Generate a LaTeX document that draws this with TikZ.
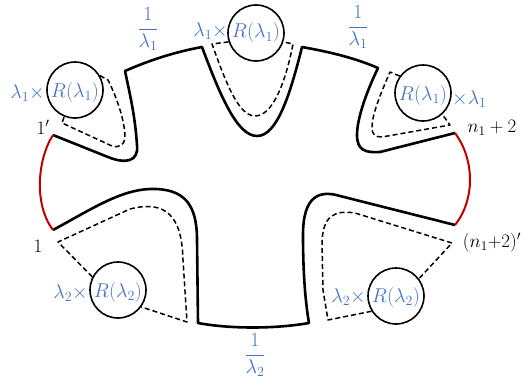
\RequirePackage{fix-cm}
\documentclass[tikz,border=0pt]{standalone}
\definecolor{lblue}{HTML}{4472C4}
\definecolor{dred}{HTML}{C00000}
\tikzset{
  ring/.style={circle, draw, line width=1.6pt, minimum size=56pt, inner sep=0pt},
  solidline/.style={line width=2.6pt, line join=round},
  dashline/.style={line width=1.5pt, dash pattern=on 5pt off 3pt, line join=round},
  redline/.style={line width=2pt, draw=dred},
  blab/.style={text=lblue, font=\fontsize{20}{24}\selectfont, inner sep=0pt},
  klab/.style={text=black, font=\fontsize{19}{23}\selectfont, inner sep=0pt}
}
\begin{document}
\begin{tikzpicture}[x=1pt,y=-1pt]
\useasboundingbox (0,0) rectangle (525,388);

% circles
\node[ring] (c1) at (75,90) {};
\node[ring] (c2) at (256,33) {};
\node[ring] (c3) at (423,93) {};
\node[ring] (c4) at (118,290) {};
\node[ring] (c5) at (396,296) {};

% texts in circles
\node[blab] (r1) at (75,92) {$R(\lambda_1)$};
\node[blab] (r2) at (256,33) {$R(\lambda_1)$};
\node[blab] (r3) at (423,95) {$R(\lambda_1)$};
\node[blab] (r4) at (118,292) {$R(\lambda_2)$};
\node[blab] (r5) at (396,297) {$R(\lambda_2)$};

% factors
\node[blab, anchor=east] (f1) at (45,93) {$\lambda_1\times$};
\node[blab, anchor=east] (f2) at (228,31) {$\lambda_1\times$};
\node[blab, anchor=west] (f3) at (452,99) {$\times\lambda_1$};
\node[blab, anchor=east] (f4) at (88,293) {$\lambda_2\times$};
\node[blab, anchor=east] (f5) at (366,297) {$\lambda_2\times$};

% fractions
\node[blab] (q1) at (148,29) {$\displaystyle\frac{1}{\lambda_1}$};
\node[blab] (q2) at (358,27) {$\displaystyle\frac{1}{\lambda_1}$};
\node[blab] (q3) at (255,355) {$\displaystyle\frac{1}{\lambda_2}$};

% endpoint labels
\node[klab] (p1) at (43,127) {$1'$};
\node[klab] (p2) at (492,128) {$n_1+2$};
\node[klab] (p3) at (38,246) {$1$};
\node[klab] (p4) at (492,243) {$(n_1{+}2)'$};

% upper solid boundary
\draw[solidline] (53,135) -- (108,157)
  .. controls (125,164) and (139,162) .. (137,145)
  .. controls (135,115) and (130,95) .. (125,71)
  .. controls (150,60) and (175,52) .. (202,47)
  .. controls (220,95) and (237,136) .. (257,136)
  .. controls (277,136) and (290,95) .. (302,47)
  .. controls (330,52) and (355,58) .. (378,68)
  .. controls (365,95) and (357,120) .. (357,135)
  .. controls (357,150) and (365,153) .. (380,152)
  -- (455,133);

% lower solid boundary
\draw[solidline] (53,230)
  .. controls (90,210) and (120,190) .. (150,189)
  .. controls (185,188) and (197,205) .. (197,240)
  -- (198,323)
  .. controls (230,329) and (275,329) .. (309,323)
  .. controls (305,300) and (303,270) .. (303,235)
  .. controls (303,195) and (320,190) .. (340,196)
  -- (455,225);

% red connectors
\draw[redline] (53,135) .. controls (37,160) and (34,205) .. (53,230);
\draw[redline] (455,133) .. controls (475,160) and (475,200) .. (455,225);

% dashed loops
\draw[dashline] (c1.30) -- (108,80)
  .. controls (118,100) and (124,120) .. (125,135)
  .. controls (125,145) and (120,148) .. (112,146)
  -- (62,123) -- (c1.-112);
\draw[dashline] (c2.198) -- (212,44)
  .. controls (225,80) and (238,116) .. (255,116)
  .. controls (272,116) and (285,85) .. (293,44)
  -- (c2.-18);
\draw[dashline] (c3.144) -- (390,72)
  .. controls (380,95) and (372,115) .. (372,127)
  .. controls (372,135) and (375,137) .. (382,137)
  -- (450,125) -- (c3.-48);
\draw[dashline] (c4.153) -- (58,242) -- (130,209)
  .. controls (165,200) and (182,215) .. (183,260)
  -- (187,322) -- (c4.-36);
\draw[dashline] (c5.-148) -- (328,320) -- (323,290) -- (322,245)
  .. controls (322,215) and (335,210) .. (355,213)
  -- (452,243) -- (c5.37);
\end{tikzpicture}
\end{document}
